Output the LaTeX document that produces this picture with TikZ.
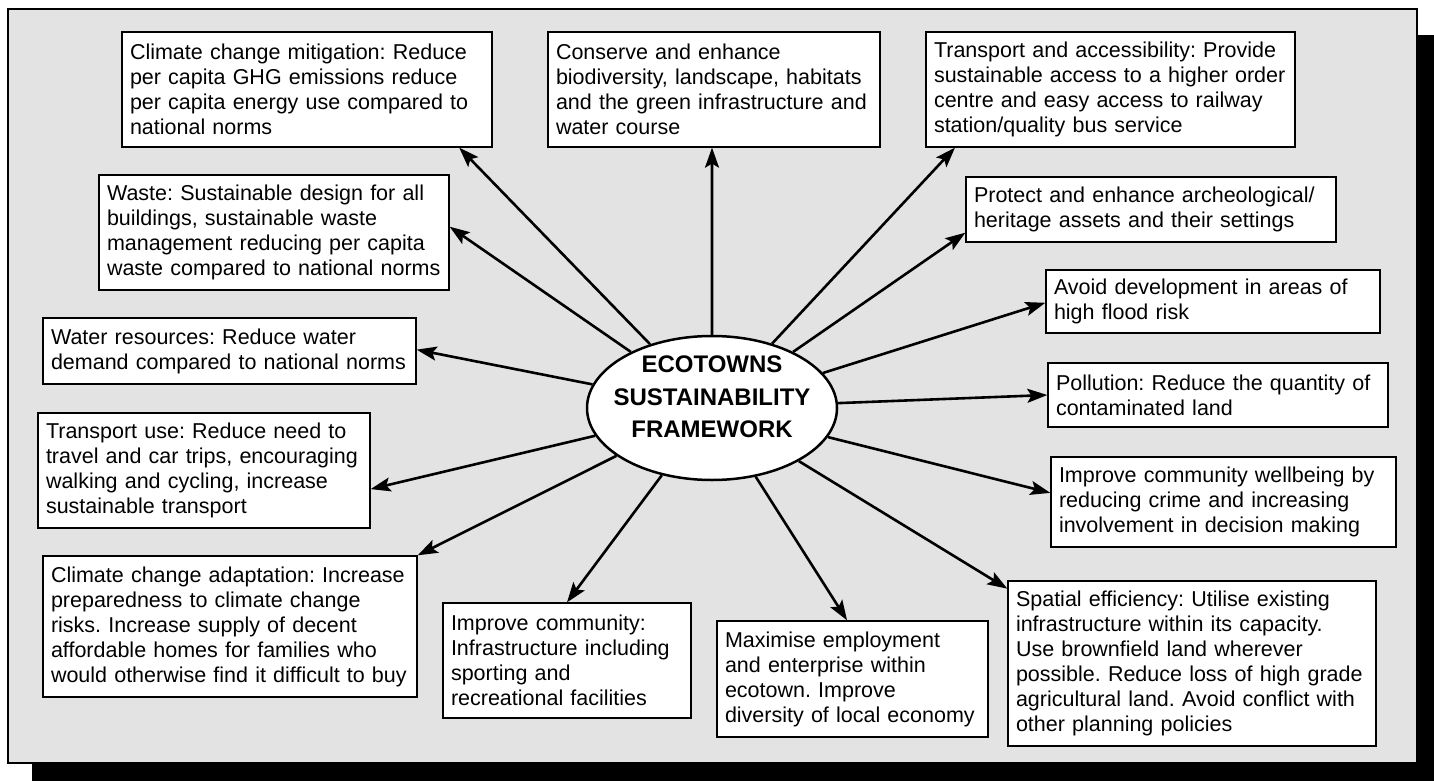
\documentclass[tikz,border=0pt]{standalone}
\usepackage{fontspec}
\setmainfont{Liberation Sans}
\usetikzlibrary{shapes.geometric,arrows.meta,calc}
\definecolor{framegray}{HTML}{E3E3E3}
\frenchspacing
\begin{document}
\begin{tikzpicture}[x=1pt,y=-1pt,
  box/.style={draw=black, line width=1.3pt, fill=white, inner xsep=8pt, inner ysep=4pt,
    align=left, font=\fontsize{21.5}{25}\selectfont},
  arr/.style={line width=2.6pt, -{Stealth[length=20pt,width=14pt,inset=4pt]}},
]
\useasboundingbox (0,0) rectangle (1434,781);
% shadow and frame
\fill[black] (32,35) rectangle (1434,781);
\filldraw[fill=framegray, draw=black, line width=2pt] (8,9) rectangle (1417,763);

% boxes
\node[box, minimum width=370pt, minimum height=115pt, text width=354pt] (mitig) at (307,89.5)
 {Climate change mitigation: Reduce\\per capita GHG emissions reduce\\per capita energy use compared to\\national norms};
\node[box, minimum width=332pt, minimum height=115pt, text width=316pt] (conserve) at (714,89.5)
 {Conserve and enhance\\biodiversity, landscape, habitats\\and the green infrastructure and\\water course};
\node[box, minimum width=369pt, minimum height=115pt, text width=353pt] (transacc) at (1110.5,89.5)
 {Transport and accessibility: Provide\\sustainable access to a higher order\\centre and easy access to railway\\station/quality bus service};
\node[box, minimum width=350pt, minimum height=115pt, text width=334pt] (waste) at (274,232.5)
 {Waste: Sustainable design for all\\buildings, sustainable waste\\management reducing per capita\\waste compared to national norms};
\node[box, minimum width=370pt, minimum height=65pt, text width=354pt] (protect) at (1151,209.5)
 {Protect and enhance archeological/\\heritage assets and their settings};
\node[box, minimum width=334pt, minimum height=63pt, text width=318pt] (avoid) at (1213,301.5)
 {Avoid development in areas of\\high flood risk};
\node[box, minimum width=373pt, minimum height=66pt, text width=357pt] (water) at (229.5,351)
 {Water resources: Reduce water\\demand compared to national norms};
\node[box, minimum width=340pt, minimum height=64pt, text width=324pt] (pollution) at (1218,395)
 {Pollution: Reduce the quantity of\\contaminated land};
\node[box, minimum width=332pt, minimum height=115pt, text width=316pt] (transuse) at (204,470.5)
 {Transport use: Reduce need to\\travel and car trips, encouraging\\walking and cycling, increase\\sustainable transport};
\node[box, minimum width=345pt, minimum height=90pt, text width=329pt] (wellbeing) at (1223.5,502)
 {Improve community wellbeing by\\reducing crime and increasing\\involvement in decision making};
\node[box, minimum width=374pt, minimum height=141pt, text width=358pt] (adapt) at (230,626.5)
 {Climate change adaptation: Increase\\preparedness to climate change\\risks. Increase supply of decent\\affordable homes for families who\\would otherwise find it difficult to buy};
\node[box, minimum width=368pt, minimum height=165pt, text width=352pt] (spatial) at (1192,663.5)
 {Spatial efficiency: Utilise existing\\infrastructure within its capacity.\\Use brownfield land wherever\\possible. Reduce loss of high grade\\agricultural land. Avoid conflict with\\other planning policies};
\node[box, minimum width=248pt, minimum height=115pt, text width=232pt] (community) at (567,660.5)
 {Improve community:\\Infrastructure including\\sporting and\\recreational facilities};
\node[box, minimum width=271pt, minimum height=116pt, text width=255pt] (employ) at (852.5,679)
 {Maximise employment\\and enterprise within\\ecotown. Improve\\diversity of local economy};

% centre
\node[draw=black, line width=2.5pt, fill=white, ellipse, minimum width=250pt, minimum height=144pt, inner sep=0pt] (eco) at (712,408) {};
\node[align=center, font=\fontsize{24}{32.5}\selectfont\bfseries] (ecotext) at (712,397)
 {ECOTOWNS\\SUSTAINABILITY\\FRAMEWORK};

% connectors
\draw[arr] (eco) -- ($(mitig.south west)!0.91!(mitig.south east)$);
\draw[arr] (eco) -- ($(conserve.south west)!0.494!(conserve.south east)$);
\draw[arr] (eco) -- ($(transacc.south west)!0.08!(transacc.south east)$);
\draw[arr] (eco) -- ($(waste.north east)!0.45!(waste.south east)$);
\draw[arr] (eco) -- ($(protect.north west)!0.85!(protect.south west)$);
\draw[arr] (eco) -- ($(avoid.north west)!0.52!(avoid.south west)$);
\draw[arr] (eco) -- ($(pollution.north west)!0.5!(pollution.south west)$);
\draw[arr] (eco) -- ($(wellbeing.north west)!0.4!(wellbeing.south west)$);
\draw[arr] (eco) -- ($(spatial.north west)!0.05!(spatial.south west)$);
\draw[arr] (eco) -- ($(employ.north west)!0.48!(employ.north east)$);
\draw[arr] (eco) -- (community.north);
\draw[arr] (eco) -- (adapt.north east);
\draw[arr] (eco) -- ($(transuse.north east)!0.66!(transuse.south east)$);
\draw[arr] (eco) -- ($(water.north east)!0.48!(water.south east)$);
\end{tikzpicture}
\end{document}
